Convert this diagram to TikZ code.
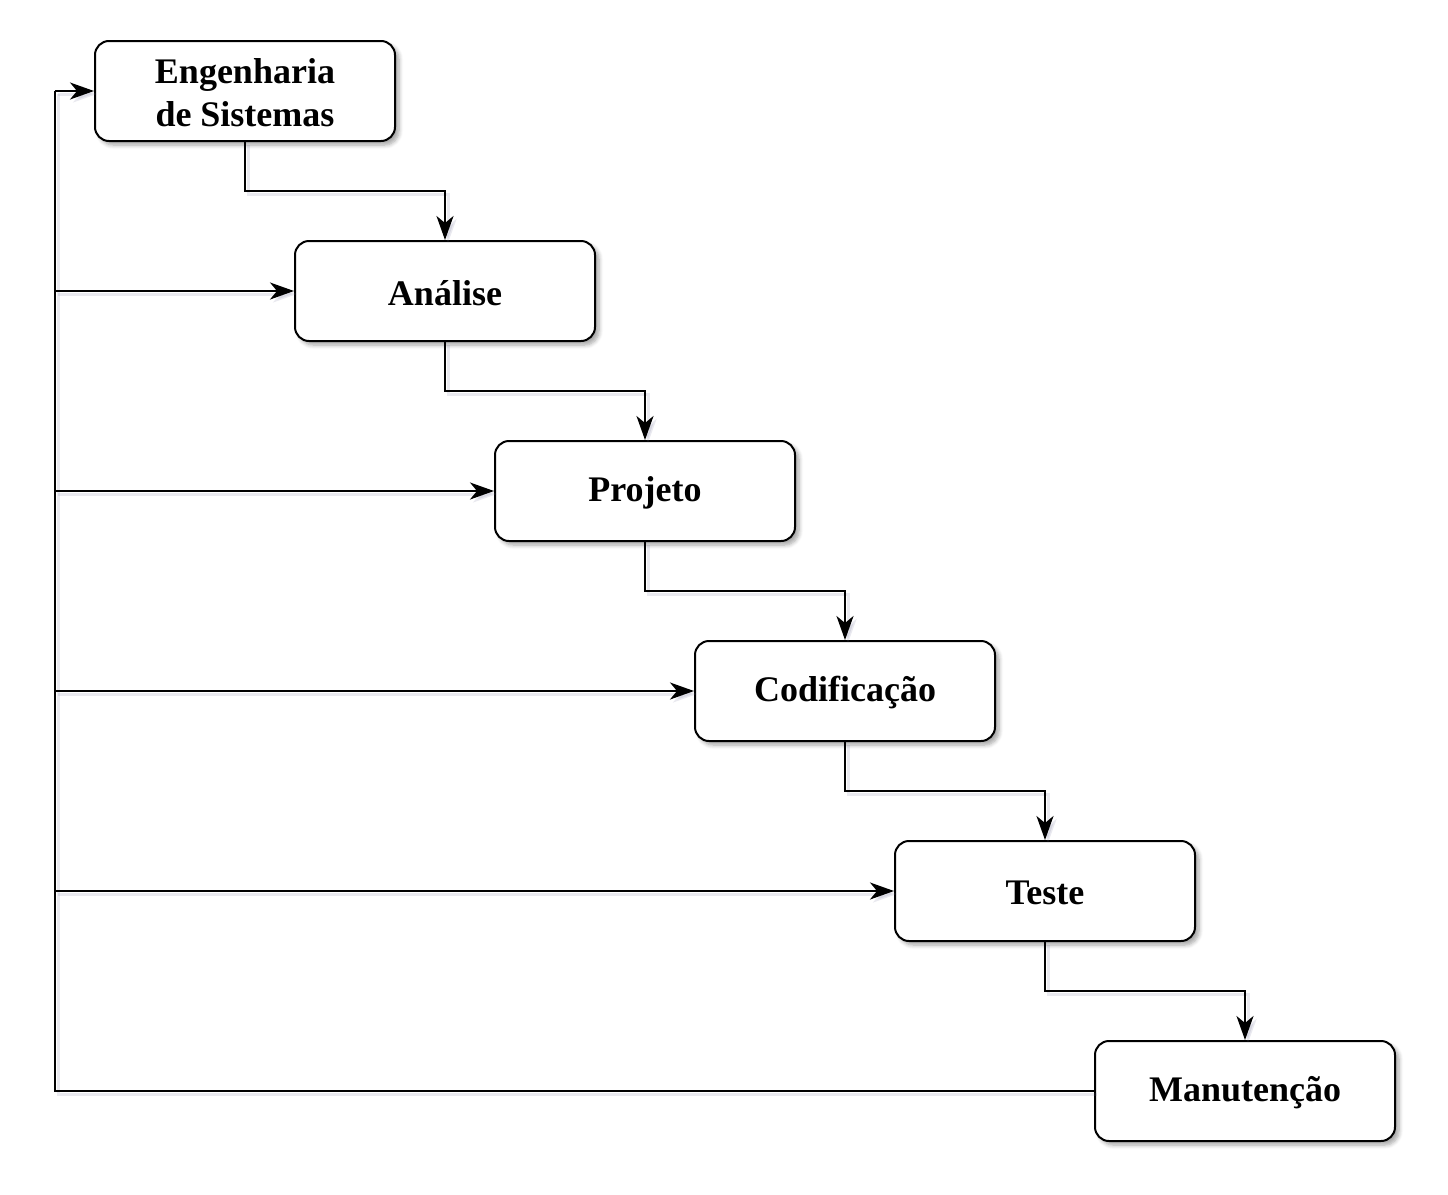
\documentclass[tikz,border=0pt]{standalone}
\usepackage{fontspec}
\setmainfont{Liberation Serif}
\usetikzlibrary{arrows.meta,shadows.blur}
\begin{document}
\begin{tikzpicture}[x=1pt,y=-1pt,
  stage/.style={draw=black, line width=2pt, rounded corners=14pt, fill=white,
    minimum width=300pt, minimum height=100pt, inner sep=0pt, align=center,
    font=\fontsize{36}{43}\selectfont\bfseries,
    blur shadow={shadow xshift=4pt, shadow yshift=-4pt, shadow blur steps=6, shadow opacity=35, shadow blur radius=4pt}},
  lbl/.style={font=\fontsize{36}{43}\selectfont\bfseries, align=center, inner sep=0pt},
  eshadow/.style={preaction={draw=blue!15!gray, opacity=0.15, line width=3pt, transform canvas={shift={(3pt,-3pt)}}}},
  conn/.style={line width=2pt, eshadow, -{Stealth[length=24pt,width=17pt,inset=7pt]}},
  plain/.style={line width=2pt, eshadow}]
\useasboundingbox (0,0) rectangle (1448,1194);
\node[stage] (es) at (245,91) {};
\node[stage] (an) at (445,291) {};
\node[stage] (pr) at (645,491) {};
\node[stage] (co) at (845,691) {};
\node[stage] (te) at (1045,891) {};
\node[stage] (ma) at (1245,1091) {};
\node[lbl] (esl) at ([yshift=-2pt]es.center) {Engenharia\\de Sistemas};
\node[lbl] (anl) at ([yshift=-2pt]an.center) {Análise};
\node[lbl] (prl) at ([yshift=-2pt]pr.center) {Projeto};
\node[lbl] (col) at ([yshift=-2pt]co.center) {Codificação};
\node[lbl] (tel) at ([yshift=-2pt]te.center) {Teste};
\node[lbl] (mal) at ([yshift=-2pt]ma.center) {Manutenção};
\coordinate (lb) at (55,1091);
\coordinate (lt) at (55,91);
% cascade
\draw[conn] (es.south) |- (345,191) -| (an.north);
\draw[conn] (an.south) |- (545,391) -| (pr.north);
\draw[conn] (pr.south) |- (745,591) -| (co.north);
\draw[conn] (co.south) |- (945,791) -| (te.north);
\draw[conn] (te.south) |- (1145,991) -| (ma.north);
% feedback
\draw[plain, line join=miter] (ma.west) -- (lb) -- (lt);
\draw[conn] (lt) -- (es.west);
\draw[conn] (55,291) -- (an.west);
\draw[conn] (55,491) -- (pr.west);
\draw[conn] (55,691) -- (co.west);
\draw[conn] (55,891) -- (te.west);
\end{tikzpicture}
\end{document}
